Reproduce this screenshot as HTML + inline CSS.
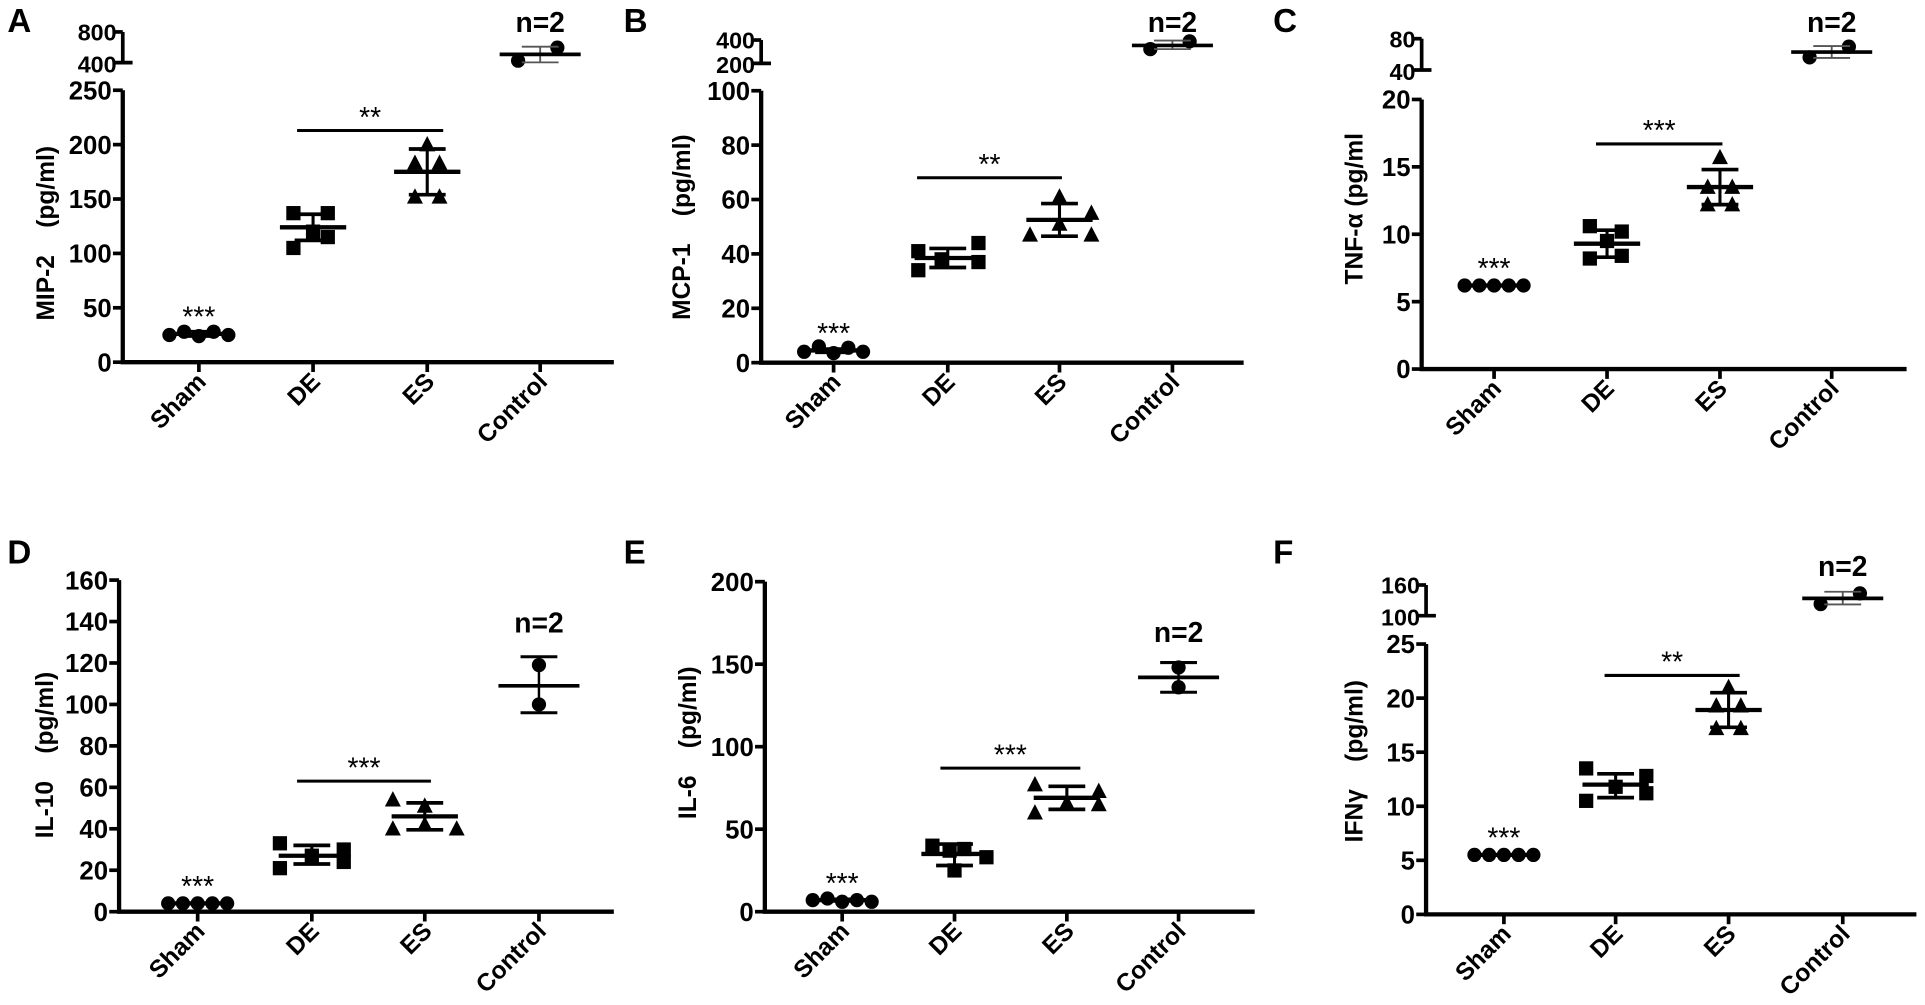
<!DOCTYPE html>
<html><head><meta charset="utf-8"><style>
html,body{margin:0;padding:0;background:#fff;}
svg{display:block;}
text{font-family:"Liberation Sans",Arial,sans-serif;}
</style></head><body>
<svg id="s" width="1925" height="1005" viewBox="0 0 1568 818.6" xmlns="http://www.w3.org/2000/svg"></svg>
<script>
const S=document.getElementById('s');let h='';
function L(x1,y1,x2,y2,w,c){h+=`<line x1="${x1}" y1="${y1}" x2="${x2}" y2="${y2}" stroke="${c||'#000'}" stroke-width="${w||3}"/>`;}
function T(x,y,t,o){o=o||{};h+=`<text x="${x}" y="${y}" font-size="${o.s||17}" font-weight="${o.w||'bold'}" text-anchor="${o.a||'middle'}" ${o.tr?`transform="${o.tr}"`:''} style="white-space:pre">${t}</text>`;}
function M(type,x,y){
 if(type=='c')h+=`<circle cx="${x}" cy="${y}" r="5.8"/>`;
 else if(type=='s')h+=`<rect x="${x-5.8}" y="${y-5.8}" width="11.6" height="11.6"/>`;
 else h+=`<polygon points="${x},${y-7} ${x-6.5},${y+5.5} ${x+6.5},${y+5.5}"/>`;
}
function panel(p){
 const fy=v=>p.y0-(v/p.max)*(p.y0-p.ytop);
 L(p.ax,p.ytop,p.ax,p.y0+1.5,3.5);
 L(p.ax-1.7,p.y0,p.xend,p.y0,3.5);
 p.ticks.forEach(v=>{const y=fy(v);L(p.ax-8,y,p.ax,y,3);T(p.ax-9,y+7.5,v,{a:'end',s:21});});
 p.cx.forEach((x,i)=>{L(x,p.y0,x,p.y0+8,3);
   T(x+7,p.y0+17,['Sham','DE','ES','Control'][i],{a:'end',s:20,tr:`rotate(-45 ${x+7} ${p.y0+17})`});});
 if(p.up){const u=p.up;
   L(p.ax,u.yt,p.ax,u.yb,3);L(p.ax-6,u.yt,p.ax,u.yt,3);L(p.ax-8,u.yb,p.ax+8,u.yb,3);
   T(p.ax-5,u.yt+7,u.lt,{a:'end',s:19});T(p.ax-5,u.yb+8,u.lb,{a:'end',s:19});}
 T(p.lx,p.ly,p.label,{s:20,tr:`rotate(-90 ${p.lx} ${p.ly})`});
 T(p.px,p.py,p.letter,{s:27,a:'start'});
 const types=['c','s','t'];
 p.g.forEach((g,i)=>{const x=p.cx[i];
   g.pts.forEach(([dx,v])=>M(types[i],x+dx,fy(v)));
   L(x-27,fy(g.m),x+27,fy(g.m),3.5);
   L(x,fy(g.lo),x,fy(g.hi),2.5);
   L(x-15,fy(g.lo),x+15,fy(g.lo),3);L(x-15,fy(g.hi),x+15,fy(g.hi),3);
 });
 const c=p.ctrl,x=p.cx[3];
 if(c.abs){M('c',x-18,c.p1);M('c',x+14,c.p2);L(x,c.hi,x,c.lo,1.5,'#555');L(x-15,c.hi,x+15,c.hi,1.5,'#555');L(x-15,c.lo,x+15,c.lo,1.5,'#555');L(x-33,c.m,x+33,c.m,3);}
 else{M('c',x,fy(c.p1));M('c',x,fy(c.p2));L(x,fy(c.lo),x,fy(c.hi),2);L(x-15,fy(c.lo),x+15,fy(c.lo),2.5);L(x-15,fy(c.hi),x+15,fy(c.hi),2.5);L(x-33,fy(c.m),x+33,fy(c.m),3);}
 T(x,c.ny+2,'n=2',{s:23});
 L(p.sig[0],fy(p.sig[2]),p.sig[1],fy(p.sig[2]),2.5);
 T((p.sig[0]+p.sig[1])/2,fy(p.sig[2])-3,p.sig[3],{w:'normal',s:23});
 const sy=fy(p.g[0].m);T(p.cx[0],sy-6,'***',{w:'normal',s:23});
}
const d5=[-24,-12,0,12,24];
const pts=(vs,dx)=>vs.map((v,i)=>[(dx||d5)[i],v]);
panel({letter:'A',px:6,py:26,ax:100,xend:500,y0:295,ytop:73.5,max:250,ticks:[0,50,100,150,200,250],cx:[162,255,348,440],
 up:{yt:26,yb:51,lt:'800',lb:'400'},label:'MIP-2    (pg/ml)',lx:44,ly:190,
 g:[{pts:pts([25,28,24,28,25]),m:26,lo:24,hi:28},{pts:pts([137,105,120,137,115],[-16,-16,0,12,12]),m:124,lo:112,hi:136},{pts:pts([183,200,183,152,152],[-10,0,10,-10,10]),m:175,lo:154,hi:196}],
 ctrl:{abs:1,p1:49.4,p2:38.8,m:44.3,hi:38,lo:50.8,ny:24},sig:[242,361,213,'**']});
panel({letter:'B',px:508,py:26,ax:620,xend:1013,y0:295.4,ytop:73.9,max:100,ticks:[0,20,40,60,80,100],cx:[679,772,863,955],
 up:{yt:32.6,yb:51.6,lt:'400',lb:'200'},label:'MCP-1    (pg/ml)',lx:562,ly:185,
 g:[{pts:pts([4,6,3.5,5.5,4]),m:4.5,lo:3.8,hi:5},{pts:pts([41,34,38,44,37],[-24,-24,-5,25,25]),m:38.5,lo:35,hi:42},{pts:pts([47,61,51,55,47],[-24,0,0,26,26]),m:52.5,lo:46.5,hi:58.5}],
 ctrl:{abs:1,p1:40,p2:33.7,m:37,hi:33,lo:40,ny:24},sig:[747,865,68,'**']});
panel({letter:'C',px:1037,py:26,ax:1158,xend:1553,y0:300.6,ytop:81,max:20,ticks:[0,5,10,15,20],cx:[1217,1309,1401,1492],
 up:{yt:31.5,yb:57,lt:'80',lb:'40'},label:'TNF-α (pg/ml',lx:1110,ly:170,
 g:[{pts:pts([6.2,6.2,6.2,6.2,6.2]),m:6.2,lo:6.2,hi:6.2},{pts:pts([10.6,8.2,9.5,10.2,8.4],[-14,-14,0,12,12]),m:9.3,lo:8.3,hi:10.3},{pts:pts([12.2,13.5,15.7,13.5,12.2],[-10,-10,0,10,10]),m:13.5,lo:12.2,hi:14.8}],
 ctrl:{abs:1,p1:46.7,p2:38,m:42.4,hi:37.5,lo:47.2,ny:24},sig:[1300,1403,16.7,'***']});
panel({letter:'D',px:6,py:459,ax:97,xend:500,y0:742.6,ytop:472.5,max:160,ticks:[0,20,40,60,80,100,120,140,160],cx:[161,254,346,439],
 label:'IL-10    (pg/ml)',lx:43,ly:615,
 g:[{pts:pts([4,4,4,4,4]),m:4,lo:4,hi:4},{pts:pts([33,21,27,30,24],[-26,-26,0,26,26]),m:27,lo:23,hi:32},{pts:pts([54,40,51,42,40],[-26,-26,0,0,26]),m:46,lo:39.5,hi:52.5}],
 ctrl:{p1:119,p2:100,m:109,lo:96,hi:123,ny:513},sig:[242,351,63,'***']});
panel({letter:'E',px:508,py:459,ax:623,xend:1022,y0:742.6,ytop:473.8,max:200,ticks:[0,50,100,150,200],cx:[686,777.5,869,960],
 label:'IL-6    (pg/ml)',lx:567,ly:605,
 g:[{pts:pts([7,8,6,7,6]),m:7,lo:6.5,hi:7.5},{pts:pts([40,37,25,38,33],[-18,-4,0,8,26]),m:35,lo:28,hi:41},{pts:pts([77,60,66,73,65],[-26,-26,0,26,26]),m:69,lo:62,hi:76}],
 ctrl:{p1:148,p2:136,m:142,lo:133,hi:151,ny:521},sig:[766,880,87,'***']});
panel({letter:'F',px:1037,py:459,ax:1161.6,xend:1561,y0:744.8,ytop:524.6,max:25,ticks:[0,5,10,15,20,25],cx:[1225,1316,1408,1501],
 up:{yt:476.5,yb:501.5,lt:'160',lb:'100'},label:'IFNγ    (pg/ml)',lx:1110,ly:620,
 g:[{pts:pts([5.5,5.5,5.5,5.5,5.5]),m:5.5,lo:5.5,hi:5.5},{pts:pts([13.5,10.5,11.8,12.8,11.2],[-24,-24,0,25,25]),m:12,lo:10.8,hi:13},{pts:pts([19.3,17.2,21,19.3,17.2],[-10,-10,0,10,10]),m:18.9,lo:17.3,hi:20.5}],
 ctrl:{abs:1,p1:492,p2:483.3,m:487.4,hi:482,lo:492.3,ny:467},sig:[1307,1417,22.1,'**']});
S.innerHTML=h;
</script>
</body></html>
